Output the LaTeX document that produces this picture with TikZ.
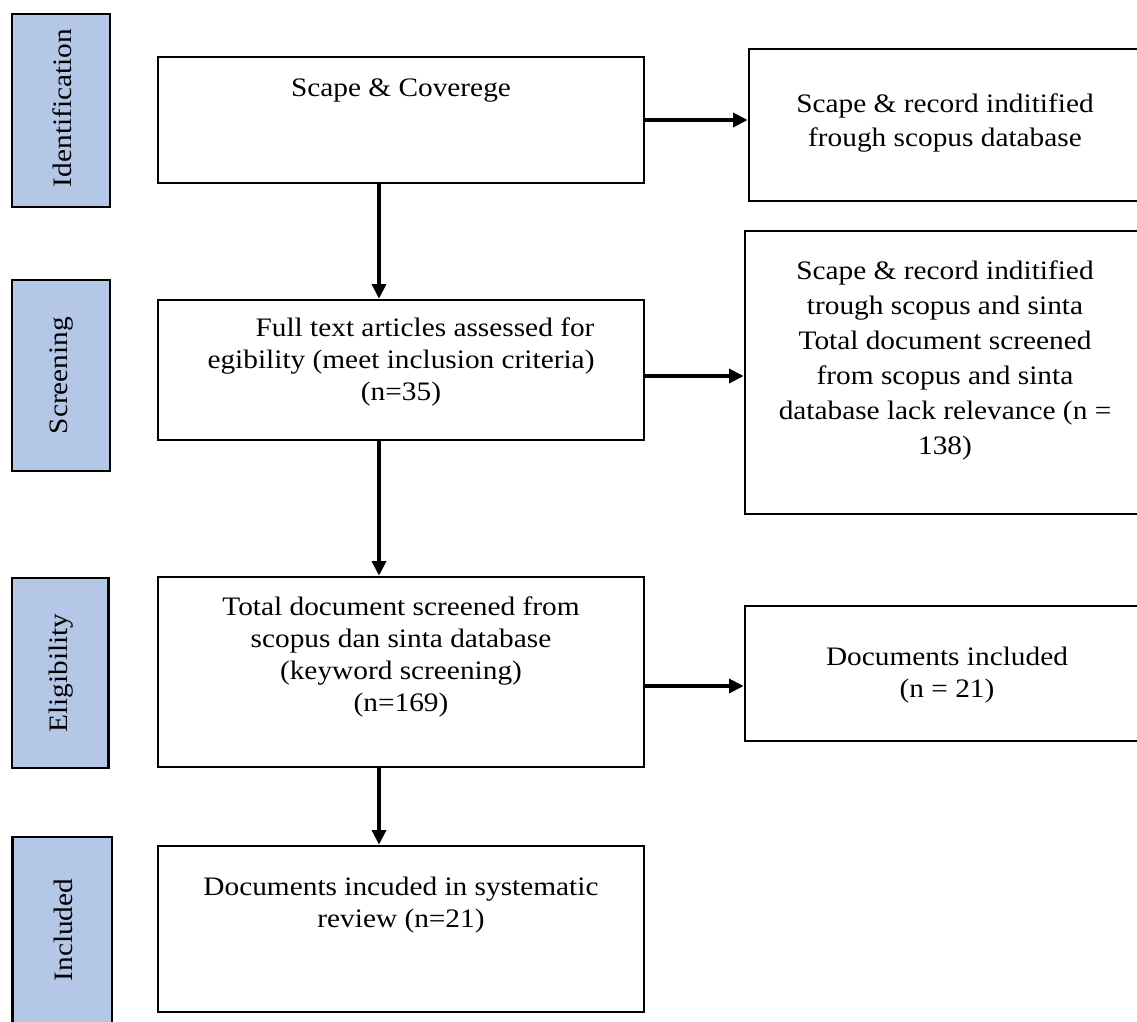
\documentclass[tikz,border=0pt]{standalone}
\usepackage{fontspec}
\setmainfont{Liberation Serif}[FakeStretch=1.1]
\usetikzlibrary{arrows.meta}
\definecolor{sidefill}{HTML}{B4C7E7}
\begin{document}
\begin{tikzpicture}[x=0.75pt,y=-0.75pt,
  box/.style={draw=black, line width=2pt, inner sep=0pt},
  side/.style={draw=black, line width=2pt, fill=sidefill, inner sep=0pt},
  sidetext/.style={rotate=90, font=\fontsize{20}{24}\selectfont},
  txt/.style={align=center, inner sep=0pt, font=\fontsize{20}{24}\selectfont},
  arr/.style={line width=2.6pt, -{Triangle[length=11pt,width=10.5pt]}}]
\useasboundingbox (0,0) rectangle (1137,1021);
% side labels
\node[side, minimum width=73.5pt, minimum height=144.75pt] (s1) at (61,110.5) {};
\node[sidetext] (s1t) at (62,108) {Identification};
\node[side, minimum width=73.5pt, minimum height=143.25pt] (s2) at (61,375.5) {};
\node[sidetext] (s2t) at (62,375.5) {Screening};
\node[side, minimum width=72.5pt, minimum height=142.5pt] (s3) at (60.3,673) {};
\node[sidetext] (s3t) at (61,673) {Eligibility};
\node[side, minimum width=74.5pt, minimum height=144.75pt] (s4) at (62.3,933.5) {};
\node[sidetext] (s4t) at (63,930) {Included};
% main boxes
\node[box, minimum width=364.5pt, minimum height=94.5pt] (b1) at (401,120) {};
\node[txt] (b1t) at (401,91) {Scape \& Coverege};
\node[box, minimum width=364.5pt, minimum height=105pt] (b2) at (401,370) {};
\node[txt] (b2t) at (401,362) {\hspace*{36pt}Full text articles assessed for\\egibility (meet inclusion criteria)\\(n=35)};
\node[box, minimum width=364.5pt, minimum height=142.5pt] (b3) at (401,672) {};
\node[txt] (b3t) at (401,656.5) {Total document screened from\\scopus dan sinta database\\(keyword screening)\\(n=169)};
\node[box, minimum width=364.5pt, minimum height=124.5pt] (b4) at (401,929) {};
\node[txt] (b4t) at (401,905) {Documents incuded in systematic\\review (n=21)};
% right boxes
\node[box, minimum width=297pt, minimum height=114pt] (r1) at (947,125) {};
\node[txt, font=\fontsize{20}{25.5}\selectfont] (r1t) at (945,123) {Scape \& record inditified\\frough scopus database};
\node[box, minimum width=300pt, minimum height=212.25pt] (r2) at (945,372.5) {};
\node[txt, font=\fontsize{20}{26.25}\selectfont] (r2t) at (945,360) {Scape \& record inditified\\trough scopus and sinta\\Total document screened\\from scopus and sinta\\database lack relevance (n =\\138)};
\node[box, minimum width=300pt, minimum height=101.25pt] (r3) at (945,673.5) {};
\node[txt] (r3t) at (947,675) {Documents included\\(n = 21)};
% arrows
\draw[arr] (b1.east) -- (b1.east -| r1.west);
\draw[arr] ([yshift=-4.5pt]b2.east) -- ([yshift=-4.5pt]b2.east -| r2.west);
\draw[arr] ([yshift=-10.5pt]b3.east) -- ([yshift=-10.5pt]b3.east -| r3.west);
\draw[arr] ([xshift=-16.5pt]b1.south) -- ([xshift=-16.5pt]b2.north);
\draw[arr] ([xshift=-16.5pt]b2.south) -- ([xshift=-16.5pt]b3.north);
\draw[arr] ([xshift=-16.5pt]b3.south) -- ([xshift=-16.5pt]b4.north);
\end{tikzpicture}
\end{document}
